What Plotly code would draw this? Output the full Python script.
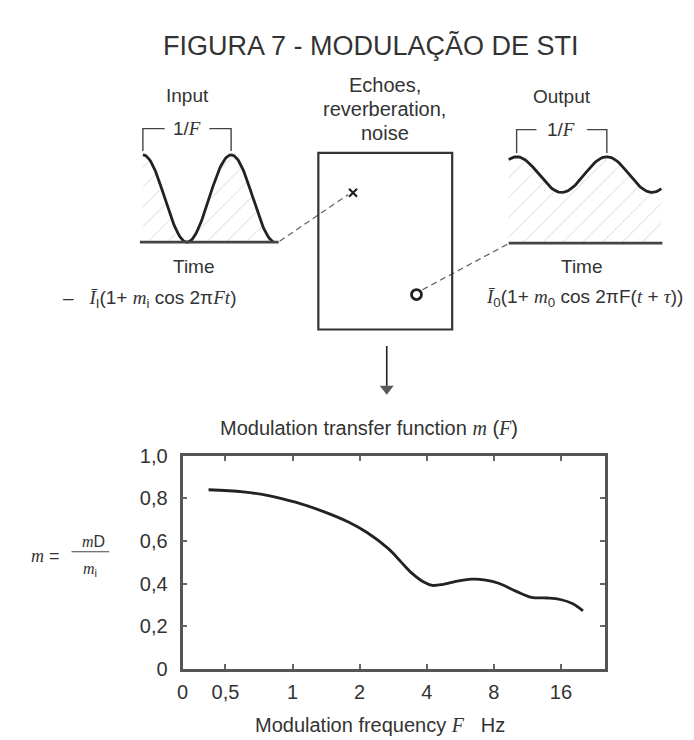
import numpy as np
import plotly.graph_objects as go

# ---------------- data: modulation transfer function ----------------
freq_hz = [0.42, 0.60, 0.79, 1.03, 1.36, 1.79, 2.16, 2.70, 3.08, 3.45, 3.86,
           4.24, 4.74, 5.31, 6.38, 7.36, 8.41, 10.1, 11.8, 13.9, 15.9, 18.1, 20.1]
mtf_m = [0.840, 0.830, 0.812, 0.782, 0.740, 0.688, 0.640, 0.563, 0.500, 0.447, 0.409,
         0.392, 0.397, 0.409, 0.421, 0.417, 0.402, 0.364, 0.336, 0.333, 0.326, 0.306, 0.273]

x_tickvals = [0.321, 0.5, 1, 2, 4, 8, 16]
x_ticktext = ["0", "0,5", "1", "2", "4", "8", "16"]
y_tickvals = [0, 0.2, 0.4, 0.6, 0.8, 1.0]
y_ticktext = ["0", "0,2", "0,4", "0,6", "0,8", "1,0"]

# schematic modulation depths of the illustrated signals
m_input = 1.0
m_output = 0.26

W, H = 694, 740
TXT = "#333333"
FONT = "Liberation Sans, Arial, sans-serif"
SERIF = "Liberation Serif, Times New Roman, serif"

fig = go.Figure()

# ---------------- MTF chart ----------------
fig.add_trace(go.Scatter(x=freq_hz, y=mtf_m, mode="lines", line=dict(color="#222", width=2.8, shape="spline"),
                         xaxis="x", yaxis="y", showlegend=False, hoverinfo="skip"))

# ---------------- schematic diagram (pixel-space overlay axes) ----------------
def wave(x0, x1, xpeak, period, base, top, m, n=120):
    xs = np.linspace(x0, x1, n)
    mean = base - (base - top) / (1 + m)
    amp = (base - top) - (base - mean)
    ys = mean - amp * np.cos(2 * np.pi * (xs - xpeak) / period)
    return xs, ys

hatch = dict(shape="/", fgcolor="#b0b0b0", bgcolor="white", size=14, solidity=0.07)

def add(tr):
    tr.update(xaxis="x2", yaxis="y2", showlegend=False, hoverinfo="skip")
    fig.add_trace(tr)

# input
xi, yi = wave(130, 262, 130, 89, 230, 140, m_input)
add(go.Scatter(x=list(xi) + [262, 130], y=list(yi) + [230, 230], fill="toself", fillcolor="white",
               fillpattern=hatch, mode="none"))
add(go.Scatter(x=xi, y=yi, mode="lines", line=dict(color="#222", width=2.8)))
# output
xo, yo = wave(499, 653, 507, 91, 231, 142, m_output)
add(go.Scatter(x=list(xo) + [653, 499], y=list(yo) + [231, 231], fill="toself", fillcolor="white",
               fillpattern=hatch, mode="none"))
add(go.Scatter(x=xo, y=yo, mode="lines", line=dict(color="#222", width=2.8)))

# baselines and brackets
add(go.Scatter(x=[127, 267, None, 499, 654], y=[230, 230, None, 231, 231], mode="lines",
               line=dict(color="#444", width=2.8)))
add(go.Scatter(x=[130, 130, 152, None, 197, 219, 219, None, 507, 507, 527, None, 578, 598, 598],
               y=[136, 113, 113, None, 113, 113, 136, None, 138, 114, 114, None, 114, 114, 138],
               mode="lines", line=dict(color="#444", width=1.4)))
# dashed connectors
add(go.Scatter(x=[268, 337, None, 412, 498], y=[229, 181, None, 279, 232], mode="lines",
               line=dict(color="#666", width=1.3, dash="6px,4px")))
# markers x and o
add(go.Scatter(x=[342], y=[179], mode="markers",
               marker=dict(symbol="x-thin", size=8, line=dict(color="#222", width=2.2))))
add(go.Scatter(x=[406], y=[284], mode="markers",
               marker=dict(symbol="circle-open", size=10, color="#222", line=dict(color="#222", width=2.8))))
# downward arrow
add(go.Scatter(x=[376, 376], y=[337, 378], mode="lines", line=dict(color="#222", width=1.6)))
add(go.Scatter(x=[376], y=[381], mode="markers",
               marker=dict(symbol="triangle-down", size=[12], color="#111", line=dict(width=0))))

shapes = [
    dict(type="rect", xref="x2", yref="y2", x0=307, x1=442, y0=138, y1=320,
         line=dict(color="#333", width=2.2)),
    dict(type="line", xref="x2", yref="y2", x0=58, x1=96, y0=549, y1=549,
         line=dict(color="#444", width=1.1)),
]

def ann(x, y, text, size=20, xanchor="center", family=FONT):
    return dict(x=x, y=y, xref="x2", yref="y2", text=text, showarrow=False,
                xanchor=xanchor, yanchor="middle", font=dict(family=family, size=size, color=TXT))

def it(s, size):
    return f"<span style='font-family:{SERIF};font-style:italic;font-size:{size}px'>{s}</span>"

annotations = [
    ann(360, 27, "FIGURA 7 - MODULAÇÃO DE STI", size=27),
    ann(175, 79, "Input", size=19),
    ann(553, 80, "Output", size=19),
    ann(374, 68, "Echoes,", size=20),
    ann(374, 93, "reverberation,", size=20),
    ann(374, 117, "noise", size=20),
    ann(175, 113, "1/" + it("F", 19), size=19),
    ann(552, 114, "1/" + it("F", 19), size=19),
    ann(182, 255, "Time", size=19),
    ann(573, 255, "Time", size=19),
    ann(47, 289, "–   " + it("Ī", 19) + "<sub>I</sub>(1+ " + it("m", 19) + "<sub>i</sub> cos 2π" + it("Ft", 19) + ")",
        size=19, xanchor="left"),
    ann(474, 288, it("Ī", 19) + "<sub>0</sub>(1+ " + it("m", 19) + "<sub>0</sub> cos 2πF(" + it("t", 19) + " + "
        + it("τ", 19) + "))", size=19, xanchor="left"),
    ann(358, 422, "Modulation transfer function " + it("m", 20) + " (" + it("F", 20) + ")", size=20),
    ann(369, 728, "Modulation frequency " + it("F", 20) + "   Hz", size=20),
    ann(32, 553, it("m", 18) + " =", size=18),
    ann(80, 538, it("m", 16) + "D", size=16),
    ann(77, 567, it("m", 16) + "<sub>i</sub>", size=16),
]

axis_common = dict(showline=True, linecolor="#555", linewidth=2.8, mirror="allticks", ticks="inside",
                   ticklen=5, tickwidth=1.5, tickcolor="#666", showgrid=False, zeroline=False,
                   tickfont=dict(family=FONT, size=20, color=TXT))

fig.update_layout(
    width=W, height=H, margin=dict(l=0, r=0, t=0, b=0),
    paper_bgcolor="white", plot_bgcolor="rgba(0,0,0,0)", showlegend=False,
    xaxis=dict(type="log", range=[np.log10(0.321), np.log10(25.2)], domain=[170 / W, 596 / W],
               tickvals=x_tickvals, ticktext=x_ticktext, anchor="y", ticklabelstandoff=3, **axis_common),
    yaxis=dict(range=[0, 1], domain=[(H - 670) / H, (H - 450) / H],
               tickvals=y_tickvals, ticktext=y_ticktext, anchor="x", ticklabelstandoff=8, **axis_common),
    xaxis2=dict(range=[0, W], domain=[0, 1], visible=False, anchor="y2"),
    yaxis2=dict(range=[H, 0], domain=[0, 1], visible=False, anchor="x2"),
    shapes=shapes, annotations=annotations,
)

fig.write_html("out.html")
